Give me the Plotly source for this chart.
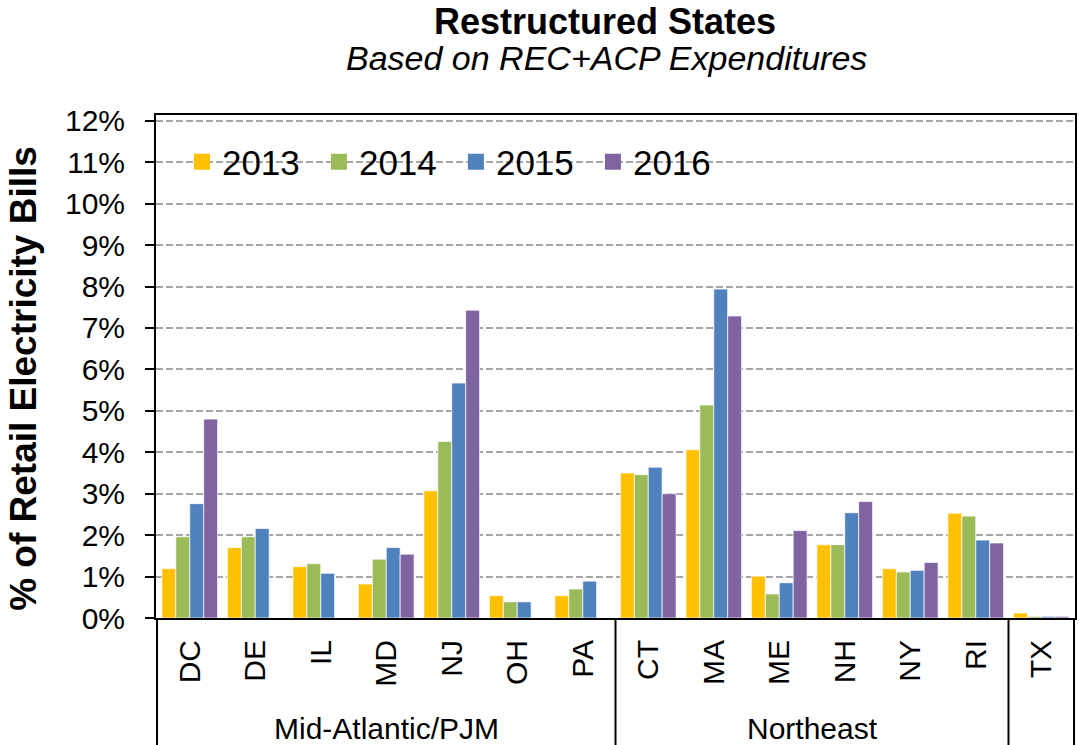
import plotly.graph_objects as go

# States on the category axis, with the region each one belongs to
states = ["DC", "DE", "IL", "MD", "NJ", "OH", "PA",
          "CT", "MA", "ME", "NH", "NY", "RI", "TX"]
regions = ["Mid-Atlantic/PJM"] * 7 + ["Northeast"] * 6 + [""]

years = ["2013", "2014", "2015", "2016"]

# % of retail electricity bills (None = no bar shown)
pct_2013 = [1.19, 1.70, 1.24, 0.82, 3.07, 0.54, 0.54,
            3.50, 4.06, 1.01, 1.77, 1.19, 2.53, 0.12]
pct_2014 = [1.96, 1.96, 1.31, 1.42, 4.26, 0.39, 0.70,
            3.46, 5.14, 0.58, 1.77, 1.11, 2.46, 0.04]
pct_2015 = [2.76, 2.16, 1.08, 1.70, 5.67, 0.39, 0.89,
            3.64, 7.94, 0.85, 2.54, 1.15, 1.88, 0.04]
pct_2016 = [4.80, None, None, 1.54, 7.43, None, None,
            3.00, 7.29, 2.11, 2.81, 1.34, 1.81, 0.04]

colors = ["#FFC000", "#9BBB59", "#4F81BD", "#8064A2"]
FONT = "Liberation Sans, Arial, sans-serif"

W, H = 1079, 745
M = dict(l=156, r=2, t=115, b=127)


def px_x(x):
    return (x - M["l"]) / (W - M["l"] - M["r"])


def px_y(y):
    return (H - M["b"] - y) / (H - M["t"] - M["b"])


fig = go.Figure()
for year, vals, col in zip(years, [pct_2013, pct_2014, pct_2015, pct_2016], colors):
    fig.add_trace(go.Bar(
        x=states, y=vals, name=year, showlegend=False,
        marker=dict(color=col, line=dict(color="rgba(255,255,255,0.7)", width=1)),
    ))
    # legend-only marker so the swatch can be larger than plotly's bar icon
    fig.add_trace(go.Scatter(
        x=[None], y=[None], mode="markers", name=year,
        marker=dict(symbol="square", size=18, color=col),
    ))

# region labels and dividers below the axis, worked out from the region list
bounds = [i for i in range(1, len(regions)) if regions[i] != regions[i - 1]]
edges = [0] + bounds + [len(regions)]
for a, b in zip(edges[:-1], edges[1:]):
    fig.add_shape(type="line", xref="x", yref="paper", x0=b - 0.5, x1=b - 0.5,
                  y0=0, y1=px_y(H + 2), line=dict(color="black", width=2))
    if regions[a]:
        fig.add_annotation(x=(a + b - 1) / 2, y=px_y(728), xref="x", yref="paper",
                           text=regions[a], showarrow=False, yanchor="middle",
                           font=dict(size=30, color="black", family=FONT))
fig.add_shape(type="line", xref="x", yref="paper", x0=-0.5, x1=-0.5,
              y0=0, y1=px_y(H + 2), line=dict(color="black", width=2))

fig.add_annotation(x=px_x(606), y=px_y(22), xref="paper", yref="paper",
                   text="<b>Restructured States</b>", showarrow=False, yanchor="middle",
                   font=dict(size=36, color="black", family=FONT))
fig.add_annotation(x=px_x(607), y=px_y(58), xref="paper", yref="paper",
                   text="<i>Based on REC+ACP Expenditures</i>", showarrow=False,
                   yanchor="middle", font=dict(size=34, color="black", family=FONT))
fig.add_annotation(x=px_x(0), y=px_y(378), xref="paper", yref="paper",
                   text="<b>% of Retail Electricity Bills</b>", showarrow=False,
                   textangle=-90, xanchor="left", yanchor="middle",
                   font=dict(size=37, color="black", family=FONT))

fig.update_layout(
    width=W, height=H, margin=M,
    paper_bgcolor="white", plot_bgcolor="white",
    barmode="group", bargap=0.15, bargroupgap=0,
    font=dict(family=FONT, color="black"),
    legend=dict(orientation="h", x=px_x(182), y=px_y(162), xanchor="left",
                yanchor="middle", font=dict(size=35), itemsizing="trace",
                entrywidth=92, entrywidthmode="pixels", bgcolor="rgba(0,0,0,0)"),
    xaxis=dict(type="category", tickangle=-90, tickfont=dict(size=30),
               ticklabelstandoff=8,
               showline=True, linecolor="black", linewidth=2, mirror=True,
               ticks="", showgrid=False),
    yaxis=dict(range=[0, 12.14], tickvals=list(range(13)),
               ticktext=[f"{v}%" for v in range(13)], tickfont=dict(size=30),
               ticks="outside", ticklen=9, tickcolor="black", tickwidth=1.5,
               ticklabelstandoff=14,
               showline=True, linecolor="black", linewidth=2, mirror=True,
               showgrid=True, gridcolor="#A6A6A6", gridwidth=1.5, griddash="7px,3px",
               zeroline=False),
)

fig.write_html("out.html", config={"displayModeBar": False},
               post_script="document.body.style.margin='0px';"
                           "document.body.style.overflow='hidden';")
